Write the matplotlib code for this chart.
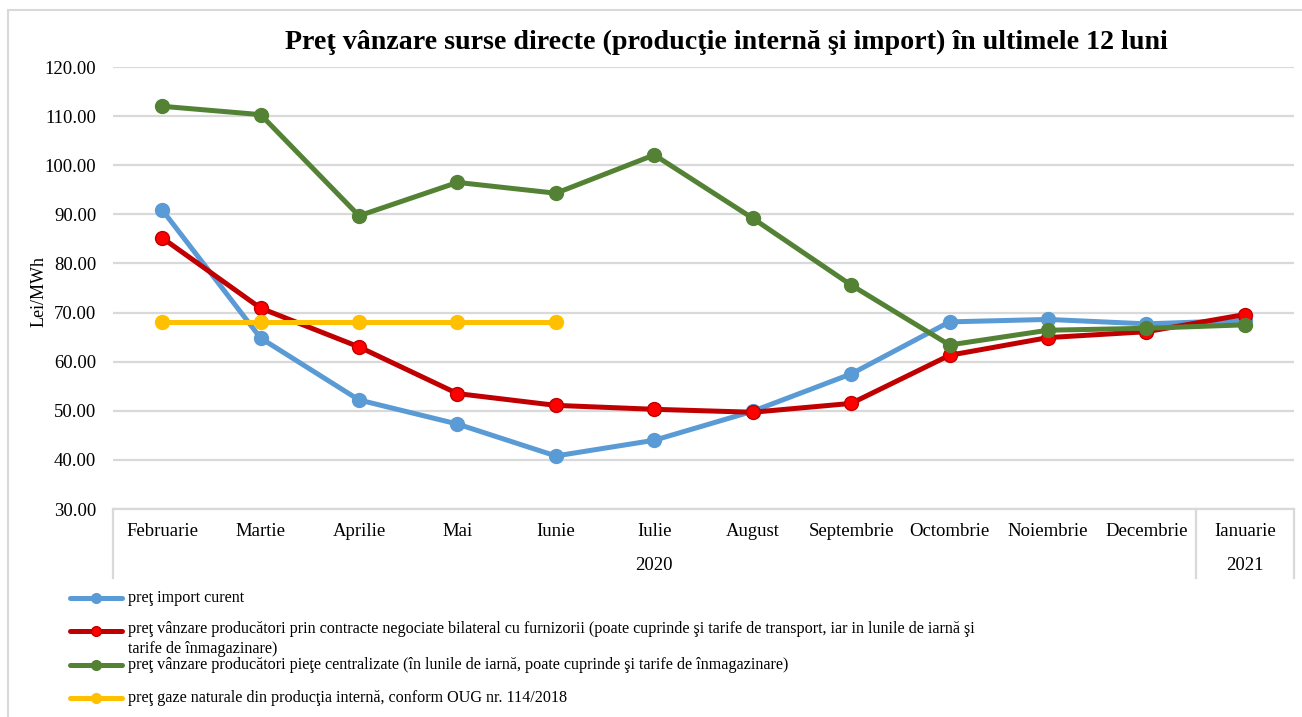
import matplotlib
matplotlib.use("Agg")
import matplotlib.pyplot as plt
from matplotlib.lines import Line2D
from matplotlib.patches import Rectangle

# Datos (Lei/MWh)
luni = ["Februarie", "Martie", "Aprilie", "Mai", "Iunie", "Iulie", "August",
        "Septembrie", "Octombrie", "Noiembrie", "Decembrie", "Ianuarie"]
ani = ["2020", "2021"]

import_curent = [90.9, 64.8, 52.2, 47.3, 40.8, 44.0, 49.9, 57.5, 68.1, 68.6, 67.7, 68.4]
contracte_bilaterale = [85.2, 70.9, 63.0, 53.5, 51.1, 50.3, 49.7, 51.5, 61.3, 64.9, 66.1, 69.6]
piete_centralizate = [112.0, 110.3, 89.7, 96.5, 94.3, 102.1, 89.2, 75.6, 63.4, 66.4, 66.8, 67.5]
productie_interna = [68.0, 68.0, 68.0, 68.0, 68.0]

etichete = [
    "preţ import curent",
    "preţ vânzare producători prin contracte negociate bilateral cu furnizorii (poate cuprinde şi tarife de transport, iar in lunile de iarnă şi\ntarife de înmagazinare)",
    "preţ vânzare producători pieţe centralizate (în lunile de iarnă, poate cuprinde şi tarife de înmagazinare)",
    "preţ gaze naturale din producţia internă, conform OUG nr. 114/2018",
]

plt.rcParams["font.family"] = ["Liberation Serif", "DejaVu Serif"]
gri = "#D9D9D9"

fig = plt.figure(figsize=(13.02, 7.17), dpi=100)
W, H = 1302, 717

# chenarul graficului
fig.add_artist(Rectangle((8 / W, -0.1), 1.2, 1 - 10 / H + 0.1, transform=fig.transFigure,
                         fill=False, edgecolor=gri, linewidth=1.5))

ax = fig.add_axes([113 / W, 1 - 509 / H, (1294 - 113) / W, (509 - 67) / H])

x = list(range(len(luni)))
ax.plot(x, import_curent, color="#5B9BD5", linewidth=3.6, marker="o", markersize=10,
        markerfacecolor="#5B9BD5", markeredgecolor="#5B9BD5", label=etichete[0])
ax.plot(x, contracte_bilaterale, color="#C00000", linewidth=3.6, marker="o", markersize=10,
        markerfacecolor="#FF0000", markeredgecolor="#C00000", markeredgewidth=1, label=etichete[1])
ax.plot(x, piete_centralizate, color="#548235", linewidth=3.6, marker="o", markersize=10,
        markerfacecolor="#548235", markeredgecolor="#548235", label=etichete[2])
ax.plot(x[:len(productie_interna)], productie_interna, color="#FFC000", linewidth=3.6, marker="o",
        markersize=10, markerfacecolor="#FFC000", markeredgecolor="#FFC000", label=etichete[3])

ax.set_xlim(-0.5, len(luni) - 0.5)
ax.set_ylim(30, 120)
ax.set_yticks(range(30, 121, 10))
ax.set_yticklabels([f"{v:.2f}" for v in range(30, 121, 10)], fontsize=13.5)
ax.tick_params(axis="y", length=0, pad=12)
ax.set_xticks([])
ax.grid(axis="y", color=gri, linewidth=1.6)
ax.set_axisbelow(True)
for s in ["top", "right", "left"]:
    ax.spines[s].set_visible(False)
ax.spines["bottom"].set_color(gri)
ax.spines["bottom"].set_linewidth(1.6)
ax.set_ylabel("Lei/MWh", fontsize=13)
ax.yaxis.set_label_coords(-0.0556, 0.493)

# axa de categorii pe doua niveluri (luni / ani)
tr = ax.get_xaxis_transform()
for i, luna in enumerate(luni):
    ax.text(i, -0.05, luna, transform=tr, ha="center", va="center", fontsize=13.5)
ax.text(5, -0.127, ani[0], transform=tr, ha="center", va="center", fontsize=13.5)
ax.text(11, -0.127, ani[1], transform=tr, ha="center", va="center", fontsize=13.5)
for xs in [-0.5, 10.5, 11.5]:
    ax.plot([xs, xs], [0, -0.156], transform=tr, color=gri, linewidth=1.6, clip_on=False)

fig.text(726 / W, 1 - 42 / H, "Preţ vânzare surse directe (producţie internă şi import) în ultimele 12 luni",
         ha="center", va="center", fontsize=20.2, fontweight="bold")

# legenda
linii = ax.get_lines()[:4]
poz_y = [598, 631, 665, 698]
for linie, eticheta, py in zip(linii, etichete, poz_y):
    yf = 1 - py / H
    fig.add_artist(Line2D([70 / W, 122 / W], [yf, yf], transform=fig.transFigure,
                          color=linie.get_color(), linewidth=3.6, solid_capstyle="round"))
    fig.add_artist(Line2D([96 / W], [yf], transform=fig.transFigure, marker="o", markersize=7,
                          markerfacecolor=linie.get_markerfacecolor(),
                          markeredgecolor=linie.get_markeredgecolor()))
    if "\n" in eticheta:
        # primul rand aliniat cu simbolul
        fig.text(128 / W, 1 - (py - 10) / H, eticheta, ha="left", va="top",
                 fontsize=11.6, linespacing=1.3)
    else:
        fig.text(128 / W, yf, eticheta, ha="left", va="center", fontsize=11.6)

fig.savefig("out.png", dpi=100)
